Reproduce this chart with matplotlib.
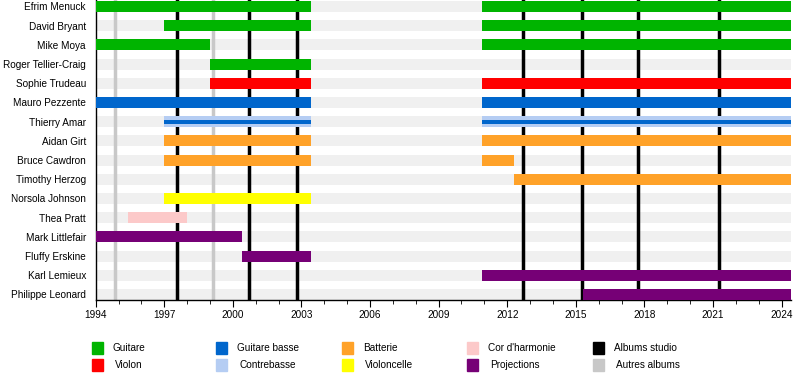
import matplotlib.pyplot as plt
from matplotlib.patches import Rectangle
from matplotlib.ticker import FixedLocator, MultipleLocator

plt.rcParams['font.family'] = ['Liberation Sans', 'DejaVu Sans']

# members, top to bottom
members = ['Efrim Menuck', 'David Bryant', 'Mike Moya', 'Roger Tellier-Craig',
           'Sophie Trudeau', 'Mauro Pezzente', 'Thierry Amar', 'Aidan Girt',
           'Bruce Cawdron', 'Timothy Herzog', 'Norsola Johnson', 'Thea Pratt',
           'Mark Littlefair', 'Fluffy Erskine', 'Karl Lemieux', 'Philippe Leonard']

END = 2024.4

# (member, start, end, role)
periods = [
    ('Efrim Menuck', 1994.0, 2003.4, 'Guitare'),
    ('Efrim Menuck', 2010.9, END, 'Guitare'),
    ('David Bryant', 1997.0, 2003.4, 'Guitare'),
    ('David Bryant', 2010.9, END, 'Guitare'),
    ('Mike Moya', 1994.0, 1999.0, 'Guitare'),
    ('Mike Moya', 2010.9, END, 'Guitare'),
    ('Roger Tellier-Craig', 1999.0, 2003.4, 'Guitare'),
    ('Sophie Trudeau', 1999.0, 2003.4, 'Violon'),
    ('Sophie Trudeau', 2010.9, END, 'Violon'),
    ('Mauro Pezzente', 1994.0, 2003.4, 'Guitare basse'),
    ('Mauro Pezzente', 2010.9, END, 'Guitare basse'),
    ('Thierry Amar', 1997.0, 2003.4, 'Contrebasse'),
    ('Thierry Amar', 2010.9, END, 'Contrebasse'),
    ('Aidan Girt', 1997.0, 2003.4, 'Batterie'),
    ('Aidan Girt', 2010.9, END, 'Batterie'),
    ('Bruce Cawdron', 1997.0, 2003.4, 'Batterie'),
    ('Bruce Cawdron', 2010.9, 2012.3, 'Batterie'),
    ('Timothy Herzog', 2012.3, END, 'Batterie'),
    ('Norsola Johnson', 1997.0, 2003.4, 'Violoncelle'),
    ('Thea Pratt', 1995.4, 1998.0, "Cor d'harmonie"),
    ('Mark Littlefair', 1994.0, 2000.4, 'Projections'),
    ('Fluffy Erskine', 2000.4, 2003.4, 'Projections'),
    ('Karl Lemieux', 2010.9, END, 'Projections'),
    ('Philippe Leonard', 2015.3, END, 'Projections'),
]

# Thierry Amar also plays bass (thin bar inside)
secondary = [
    ('Thierry Amar', 1997.0, 2003.4, 'Guitare basse'),
    ('Thierry Amar', 2010.9, END, 'Guitare basse'),
]

studio_albums = [1997.55, 2000.7, 2002.8, 2012.7, 2015.25, 2017.7, 2021.27]
other_albums = [1994.86, 1999.14]

year_ticks = list(range(1994, 2025, 3))

colors = {
    'Guitare': '#00b400',
    'Violon': '#ff0000',
    'Guitare basse': '#0066cc',
    'Contrebasse': '#b5cdf3',
    'Batterie': '#ffa229',
    'Violoncelle': '#ffff00',
    "Cor d'harmonie": '#fcc9c9',
    'Projections': '#760076',
    'Albums studio': '#000000',
    'Autres albums': '#c8c8c8',
}

legend_order = ['Guitare', 'Violon', 'Guitare basse', 'Contrebasse', 'Batterie',
                'Violoncelle', "Cor d'harmonie", 'Projections', 'Albums studio',
                'Autres albums']

fig = plt.figure(figsize=(8, 3.8), dpi=100)
ax = fig.add_axes([95.7 / 800, 1 - 300 / 380, (790.7 - 95.7) / 800, 300 / 380])

row = {m: i for i, m in enumerate(members)}
h = 0.57

# background stripes
ax.barh(range(len(members)), END - 1994, left=1994, height=h, color='#f0f0f0', zorder=1)

for x in other_albums:
    ax.axvline(x, color=colors['Autres albums'], lw=2.5, zorder=2)
for x in studio_albums:
    ax.axvline(x, color=colors['Albums studio'], lw=2.5, zorder=2)

for m, s, e, role in periods:
    ax.barh(row[m], e - s, left=s, height=h, color=colors[role], zorder=3)
for m, s, e, role in secondary:
    ax.barh(row[m], e - s, left=s, height=h * 0.36, color=colors[role], zorder=4)

ax.set_xlim(1994, END)
ax.set_ylim(15 + 5.5 / 19.2, -6.5 / 19.2)
ax.set_yticks(range(len(members)))
ax.set_yticklabels(members, fontsize=7.2)
ax.tick_params(axis='y', length=0, pad=7)
ax.xaxis.set_major_locator(FixedLocator(year_ticks))
ax.xaxis.set_minor_locator(MultipleLocator(1))
ax.tick_params(axis='x', which='major', length=5, labelsize=7.2, pad=2)
ax.tick_params(axis='x', which='minor', length=3)
for side in ['top', 'right']:
    ax.spines[side].set_visible(False)
ax.spines['left'].set_linewidth(1)
ax.spines['bottom'].set_linewidth(1)

# legend, laid out in fixed columns
col_x = [92, 216, 342, 467, 593]
row_y = [348, 365]
for k, name in enumerate(legend_order):
    cx = col_x[k // 2]
    cy = row_y[k % 2]
    fig.add_artist(Rectangle((cx / 800, 1 - (cy + 6) / 380), 11 / 800, 12 / 380,
                             transform=fig.transFigure, color=colors[name]))
    tx = cx + 21 if k % 2 == 0 else cx + 23
    fig.text(tx / 800, 1 - cy / 380, name, fontsize=7.2, va='center', ha='left')

fig.savefig('out.png', dpi=100)
